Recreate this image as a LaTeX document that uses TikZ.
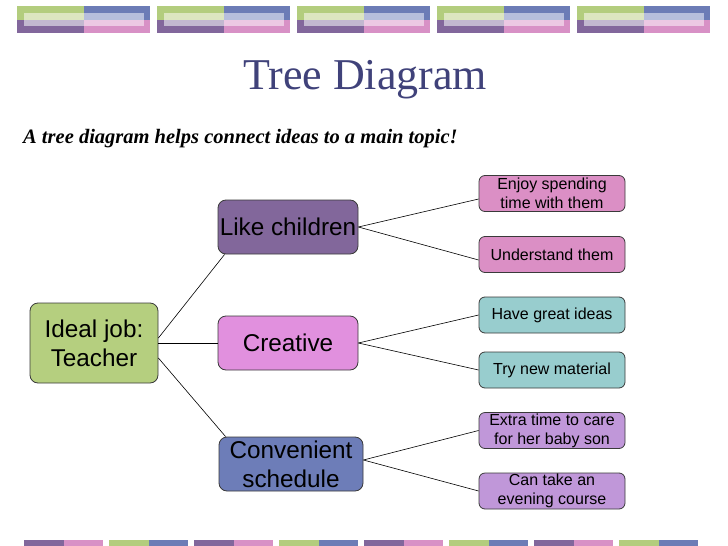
\documentclass[tikz,border=0pt]{standalone}
\usepackage{fontspec}
\setmainfont{Liberation Serif}
\newfontfamily\arialf{Liberation Sans}
\definecolor{cGreen}{HTML}{B3CD7E}
\definecolor{cBlue}{HTML}{6C7CB6}
\definecolor{cPurple}{HTML}{82679C}
\definecolor{cPink}{HTML}{D891C6}
\definecolor{cLGreen}{HTML}{DCE6C0}
\definecolor{cLBlue}{HTML}{B6BEDC}
\definecolor{cLPurple}{HTML}{C2B8D0}
\definecolor{cLPink}{HTML}{ECC8E3}
\definecolor{rootC}{HTML}{B5CF7F}
\definecolor{likeC}{HTML}{82679B}
\definecolor{creaC}{HTML}{E190DE}
\definecolor{convC}{HTML}{6D7DB8}
\definecolor{leafPink}{HTML}{DB8FC5}
\definecolor{leafTeal}{HTML}{98CDCE}
\definecolor{leafLav}{HTML}{C097D9}
\definecolor{titleC}{HTML}{40427A}
\definecolor{edgeC}{HTML}{3A3A3A}
\begin{document}
\begin{tikzpicture}[x=1pt,y=-1pt,
  box/.style={draw=edgeC, line width=0.8pt, rounded corners=8pt, inner sep=0pt, align=center, text=black},
  midbox/.style={box, minimum height=54pt, font=\arialf\fontsize{24.3}{29}\selectfont},
  leafbox/.style={box, rounded corners=6pt, minimum width=146pt, minimum height=36pt, font=\arialf\fontsize{16}{18.8}\selectfont},
  link/.style={draw=black, line width=0.6pt}
]
\useasboundingbox (0,0) rectangle (728,546);
% top decorative bar
\foreach \k in {0,...,4}{
  \pgfmathsetmacro{\xa}{17+140*\k}
  \fill[cGreen] (\xa,6) rectangle (\xa+67,19.5);
  \fill[cBlue] (\xa+67,6) rectangle (\xa+133,19.5);
  \fill[cPurple] (\xa,19.5) rectangle (\xa+67,33);
  \fill[cPink] (\xa+67,19.5) rectangle (\xa+133,33);
  \fill[cLGreen] (\xa+7,13) rectangle (\xa+67,19.5);
  \fill[cLBlue] (\xa+67,13) rectangle (\xa+127,19.5);
  \fill[cLPurple] (\xa+7,19.5) rectangle (\xa+67,26);
  \fill[cLPink] (\xa+67,19.5) rectangle (\xa+127,26);
}
% bottom decorative bar
\foreach \k in {0,...,7}{
  \pgfmathsetmacro{\xa}{24+85*\k}
  \pgfmathtruncatemacro{\odd}{mod(\k,2)}
  \ifnum\odd=0
    \fill[cPurple] (\xa,540) rectangle (\xa+39.5,546);
    \fill[cPink] (\xa+39.5,540) rectangle (\xa+79,546);
  \else
    \fill[cGreen] (\xa,540) rectangle (\xa+39.5,546);
    \fill[cBlue] (\xa+39.5,540) rectangle (\xa+79,546);
  \fi
}
% titles
\node[anchor=base, text=titleC, font=\fontsize{44}{48}\selectfont, inner sep=0pt] (title) at (365,89) {Tree Diagram};
\node[anchor=base west, font=\fontsize{20.5}{24}\selectfont\bfseries\itshape, inner sep=0pt] (subtitle) at (23,143) {A tree diagram helps connect ideas to a main topic!};
% nodes
\node[box, fill=rootC, minimum width=128pt, minimum height=80pt, font=\arialf\fontsize{24.3}{29}\selectfont] (root) at (94,343) {Ideal job:\\Teacher};
\node[midbox, fill=likeC, minimum width=140pt] (lc) at (288,227) {Like children};
\node[midbox, fill=creaC, minimum width=140pt] (cr) at (288,343) {Creative};
\node[midbox, fill=convC, minimum width=144pt] (cs) at (291,464) {Convenient\\schedule};
\node[leafbox, fill=leafPink] (e) at (552,193.5) {Enjoy spending\\time with them};
\node[leafbox, fill=leafPink] (u) at (552,254.5) {Understand them};
\node[leafbox, fill=leafTeal] (h) at (552,315) {Have great ideas};
\node[leafbox, fill=leafTeal] (t) at (552,370) {Try new material};
\node[leafbox, fill=leafLav] (x) at (552,430.5) {Extra time to care\\for her baby son};
\node[leafbox, fill=leafLav] (c) at (552,491) {Can take an\\evening course};
% connectors
\draw[link] ([yshift=5pt]root.east) -- ([xshift=7pt]lc.south west);
\draw[link] (root.east) -- (cr.west);
\draw[link] ([yshift=-15pt]root.east) -- ([xshift=7pt]cs.north west);
\draw[link] (lc.east) -- ([yshift=-5.5pt]e.west);
\draw[link] (lc.east) -- ([yshift=-5.5pt]u.west);
\draw[link] (cr.east) -- (h.west);
\draw[link] (cr.east) -- (t.west);
\draw[link] ([yshift=4pt]cs.east) -- (x.west);
\draw[link] ([yshift=4pt]cs.east) -- (c.west);
\end{tikzpicture}
\end{document}
